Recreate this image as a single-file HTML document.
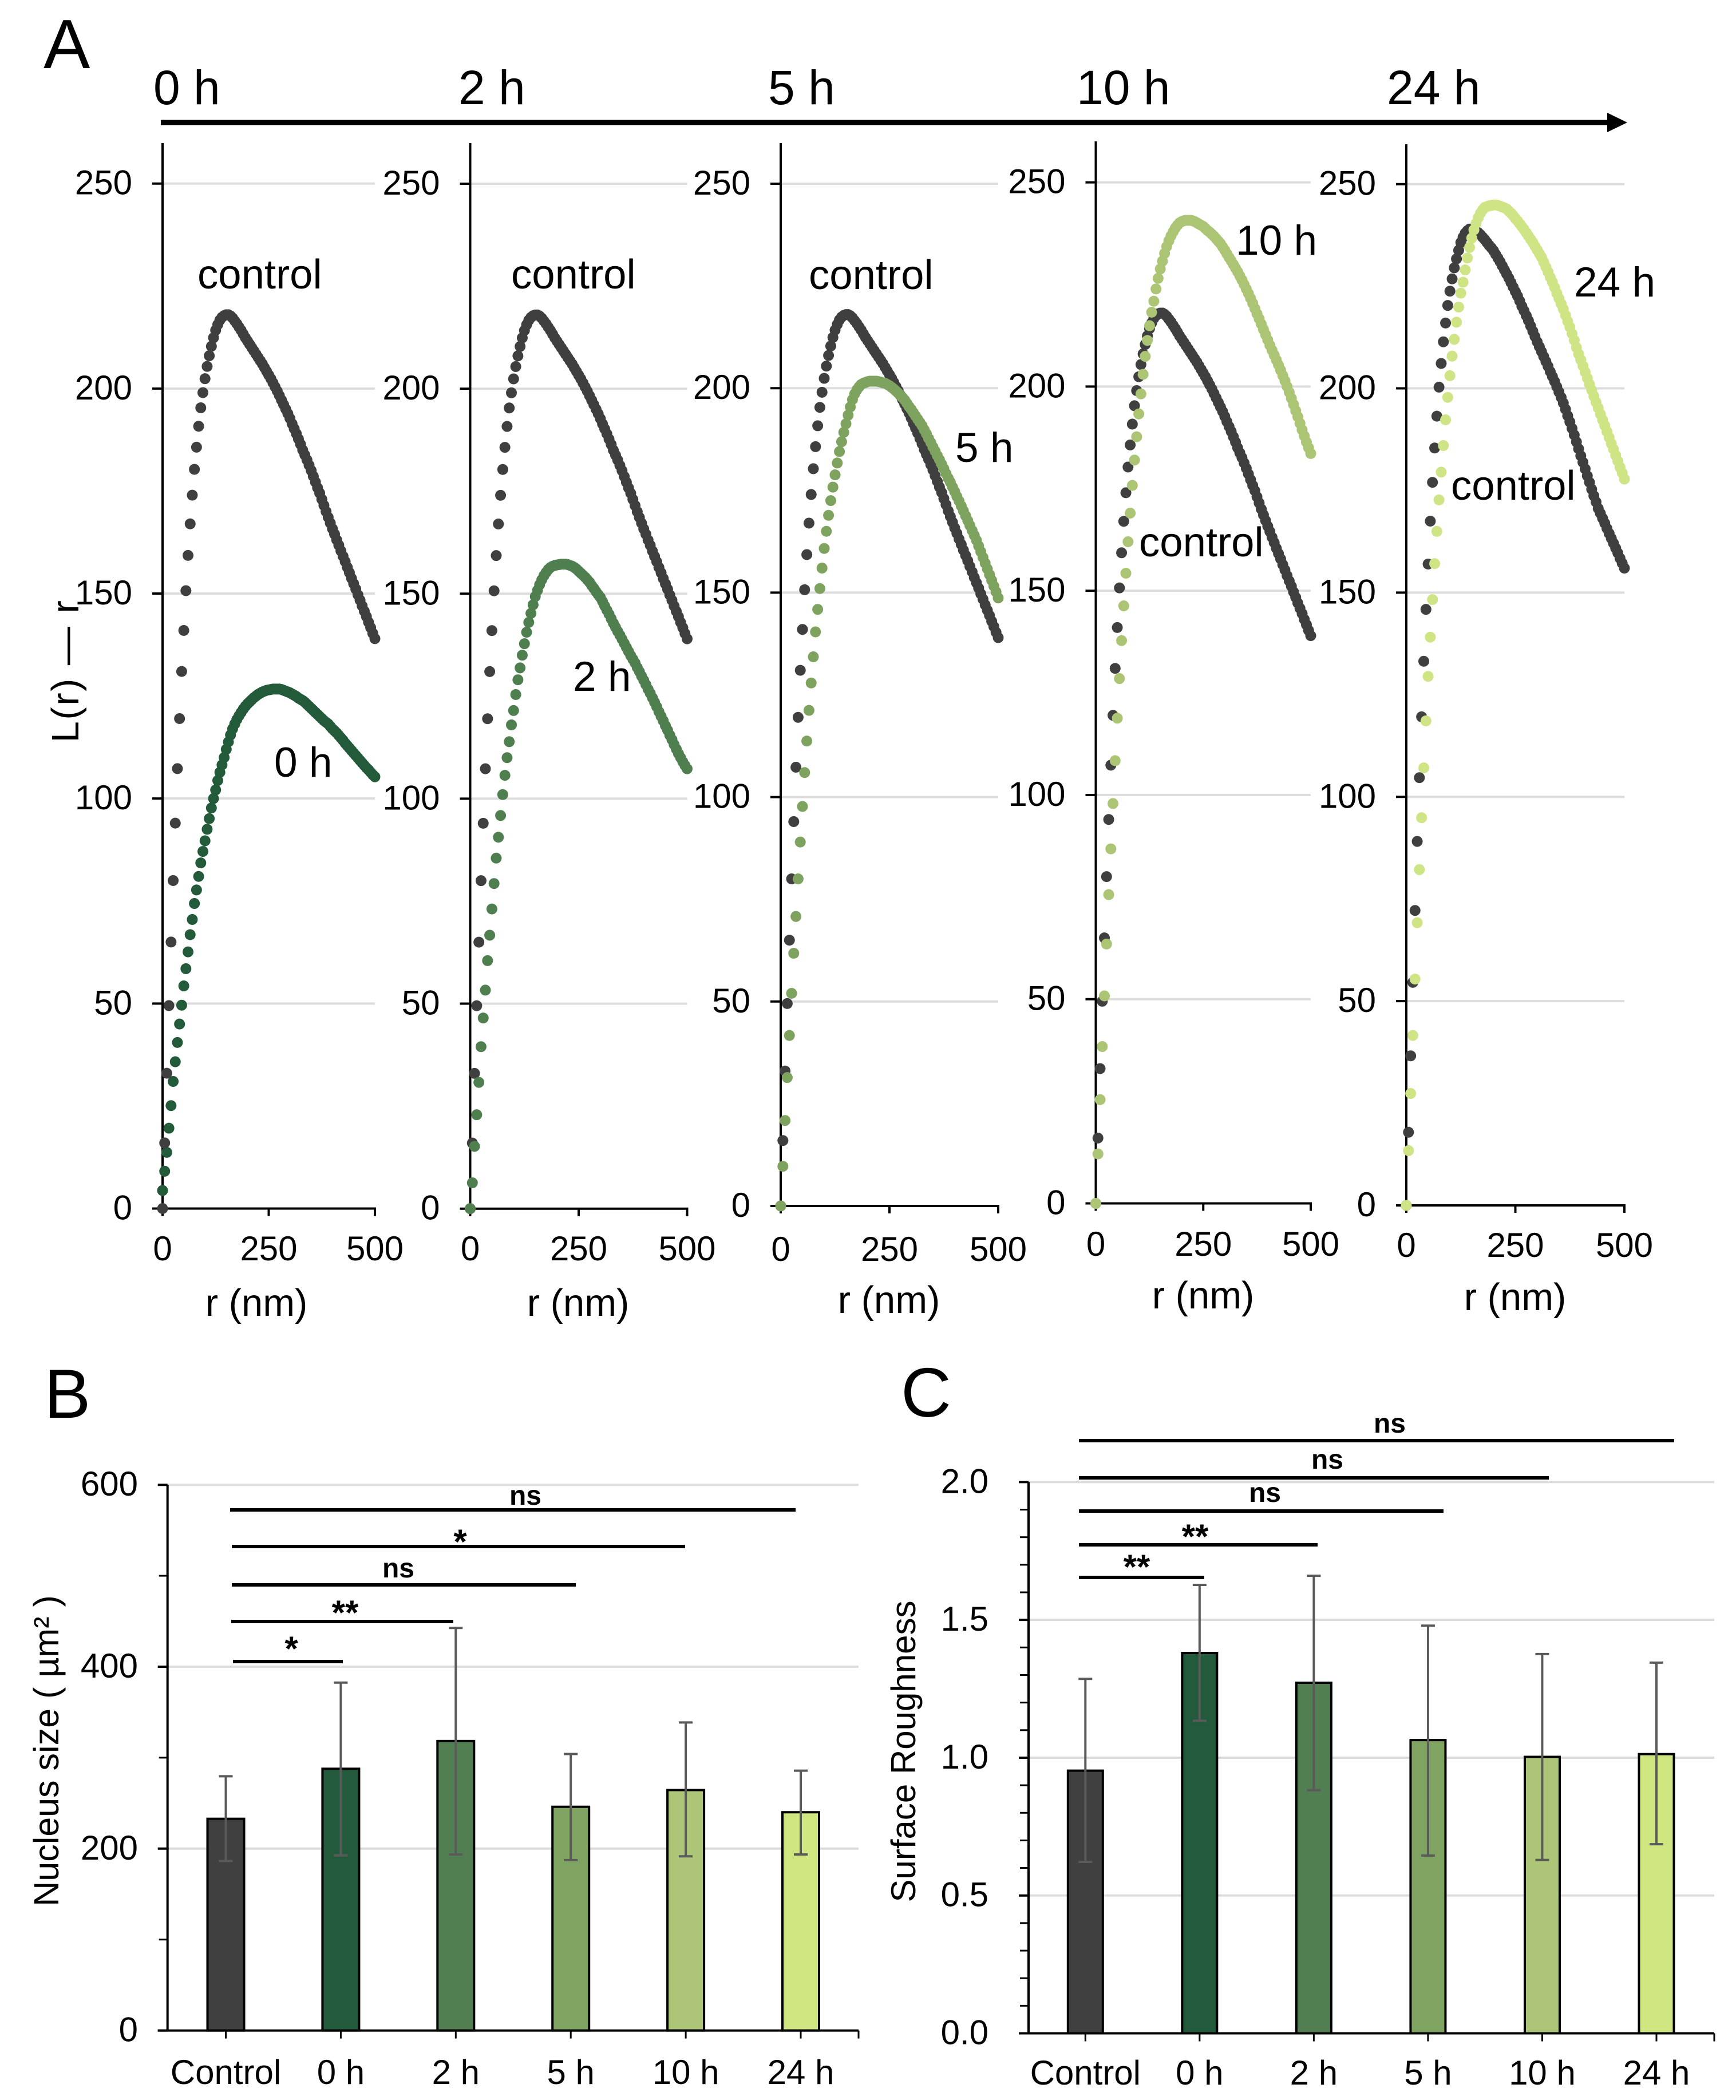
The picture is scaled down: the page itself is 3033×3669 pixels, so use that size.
<!DOCTYPE html>
<html lang="en">
<head>
<meta charset="utf-8">
<title>L(r) — r time course, nucleus size and surface roughness</title>
<style>
html,body{margin:0;padding:0;background:#fff;}
svg{display:block;}
text{font-family:"Liberation Sans",Arial,sans-serif;fill:#000;}
.panel-letter{font-size:122px;}
.header{font-size:84px;}
.tick{font-size:60px;}
.axis-title{font-size:67px;}
.note{font-size:72.5px;}
.note-h{font-size:73px;}
.sig{font-size:48px;font-weight:bold;text-anchor:middle;}
.star{font-size:60px;font-weight:bold;text-anchor:middle;}
.sig-line{stroke:#000;stroke-width:6;}
</style>
</head>
<body>
<svg id="fig" xmlns="http://www.w3.org/2000/svg" width="3033" height="3669" viewBox="0 0 3033 3669">
  <rect x="0" y="0" width="3033" height="3669" fill="#ffffff"/>
  <text class="panel-letter" x="76" y="119">A</text>
  <text class="panel-letter" x="77" y="2477">B</text>
  <text class="panel-letter" x="1574" y="2475">C</text>

  <text class="header" x="268" y="182">0 h</text>
  <text class="header" x="801" y="182">2 h</text>
  <text class="header" x="1342" y="182">5 h</text>
  <text class="header" x="1881" y="182">10 h</text>
  <text class="header" x="2423" y="182">24 h</text>
  <line x1="281" y1="214" x2="2812" y2="214" stroke="#000" stroke-width="9"/>
  <polygon points="2808,197 2843,214 2808,231" fill="#000"/>

  <g id="panels"></g>

  <text class="axis-title" style="font-size:67px;letter-spacing:2.5px" transform="translate(137,1172) rotate(-90)" text-anchor="middle">L(r) — r</text>

  <text class="note" x="345" y="504">control</text>
  <text class="note" x="893" y="504">control</text>
  <text class="note" x="1413" y="505">control</text>
  <text class="note" x="1990" y="972">control</text>
  <text class="note" x="2535" y="873">control</text>
  <text class="note-h" x="479" y="1357">0 h</text>
  <text class="note-h" x="1001" y="1207">2 h</text>
  <text class="note-h" x="1669" y="807">5 h</text>
  <text class="note-h" x="2159" y="445">10 h</text>
  <text class="note-h" x="2750" y="518">24 h</text>

  <g id="chart-b"></g>
  <g id="chart-c"></g>

  <text class="axis-title" style="font-size:61px" transform="translate(102,3059) rotate(-90)" text-anchor="middle">Nucleus size ( µm² )</text>
  <text class="axis-title" style="font-size:60px" transform="translate(1599,3060) rotate(-90)" text-anchor="middle">Surface Roughness</text>

  <g>
    <line class="sig-line" x1="402" y1="2638" x2="1390" y2="2638"/>
    <text class="sig" x="918" y="2629">ns</text>
    <line class="sig-line" x1="405" y1="2702" x2="1197" y2="2702"/>
    <text class="star" x="804" y="2714">*</text>
    <line class="sig-line" x1="405" y1="2769" x2="1006" y2="2769"/>
    <text class="sig" x="696" y="2756">ns</text>
    <line class="sig-line" x1="404" y1="2833" x2="792" y2="2833"/>
    <text class="star" x="603" y="2838">**</text>
    <line class="sig-line" x1="407" y1="2903" x2="599" y2="2903"/>
    <text class="star" x="509" y="2901">*</text>
  </g>
  <g>
    <line class="sig-line" x1="1885" y1="2517" x2="2925" y2="2517"/>
    <text class="sig" x="2428" y="2503">ns</text>
    <line class="sig-line" x1="1885" y1="2582" x2="2706" y2="2582"/>
    <text class="sig" x="2319" y="2566">ns</text>
    <line class="sig-line" x1="1885" y1="2640" x2="2522" y2="2640"/>
    <text class="sig" x="2210" y="2624">ns</text>
    <line class="sig-line" x1="1885" y1="2699" x2="2302" y2="2699"/>
    <text class="star" x="2088" y="2705">**</text>
    <line class="sig-line" x1="1885" y1="2756" x2="2104" y2="2756"/>
    <text class="star" x="1986" y="2758">**</text>
  </g>
</svg>
<script>
// ---- Panel A data: r (nm) and L(r) - r for each series ----
const radiusNm = [0,5,10,15,20,25,30,35,40,45,50,55,60,65,70,75,80,85,90,95,100,105,110,115,120,125,130,135,140,145,150,155,160,165,170,175,180,185,190,195,200,205,210,215,220,225,230,235,240,245,250,255,260,265,270,275,280,285,290,295,300,305,310,315,320,325,330,335,340,345,350,355,360,365,370,375,380,385,390,395,400,405,410,415,420,425,430,435,440,445,450,455,460,465,470,475,480,485,490,495,500];
const controlValues = [0,16,33,49.5,65,80,94,107.3,119.5,131,141,150.7,159.3,167,174,180.3,185.7,190.8,195.3,199,202.4,205.4,208,210.3,212.4,214.2,215.6,216.7,217.4,217.8,218,218,217.7,217.2,216.5,215.8,215,214.2,213.3,212.4,211.6,210.8,210,209.2,208.4,207.6,206.8,206,205.1,204.2,203.3,202.4,201.4,200.4,199.4,198.3,197.2,196.1,195,193.9,192.7,191.4,190.2,189,187.7,186.4,185,183.8,182.6,181.3,180,178.6,177.2,175.8,174.5,173,171.5,170,168.6,167.2,165.8,164.5,163.1,161.8,160.4,159.1,157.8,156.4,155.1,153.7,152.4,151.1,149.7,148.4,147,145.7,144.4,143,141.7,140.3,139];
const hour0Values = [4.4,9.1,13.7,19.6,25.1,31,35.8,40.5,45,49.6,54.3,58.5,62.6,66.8,70.5,74.4,77.7,81,84.3,87.1,89.7,92.5,95.1,97.7,100,102.1,104.4,106.4,108.2,110,112,113.8,115.5,117,118.2,119.3,120.2,121,121.8,122.5,123.1,123.6,124.1,124.6,125,125.4,125.7,126,126.2,126.4,126.5,126.6,126.7,126.7,126.7,126.7,126.6,126.4,126.2,126,125.8,125.5,125.2,124.9,124.5,124.2,123.9,123.5,123,122.5,122,121.5,121,120.5,120,119.5,119,118.6,118.2,117.6,117,116.5,116,115.4,114.8,114.2,113.5,112.9,112.3,111.7,111.1,110.5,109.9,109.3,108.7,108.1,107.5,107,106.4,105.8,105.3];
const hour2Values = [0,6.3,15.2,22.9,30.8,39.5,46.5,53.3,60.5,66.7,73.1,79.3,85.5,90.6,95.9,101,105.7,110,113.9,118,121.5,125.4,129,131.9,135,137.8,140.6,143,145.2,147.3,149.3,150.8,152.2,153.4,154.4,155.2,155.9,156.4,156.7,156.9,157,157.1,157.2,157.2,157.2,157.1,156.9,156.7,156.4,156,155.5,155,154.5,154,153.4,152.8,152,151.3,150.5,149.8,149.1,148.1,147,146,145,143.9,142.8,141.8,140.8,139.9,138.9,137.9,136.9,135.9,134.9,134,133.1,132,131,129.9,128.9,127.8,126.7,125.7,124.6,123.5,122.4,121.2,120.1,119,117.8,116.7,115.5,114.4,113.2,112.1,111,110,109,108.1,107.3];
const hour5Values = [0,9.7,20.9,31.4,41.7,52,61.8,70.8,80,89,97.7,106,113.7,121.2,127.9,134.3,140.4,145.9,151,156,160.8,165,168.9,172.5,175.8,178.8,181.7,184.5,186.9,189.2,191.3,193.4,195.4,197.2,198.6,199.6,200.3,200.9,201.2,201.4,201.6,201.7,201.7,201.7,201.7,201.6,201.5,201.3,201.2,200.9,200.6,200.2,199.8,199.3,198.8,198.2,197.7,197.1,196.3,195.5,194.8,194,193.2,192.4,191.6,190.8,189.8,188.8,187.7,186.7,185.6,184.6,183.5,182.5,181.4,180.3,179.1,178,177,175.8,174.7,173.5,172.4,171.2,170,168.8,167.6,166.4,165.2,164,162.8,161.4,160,158.6,157.2,155.8,154.4,153,151.6,150.2,148.7];
const hour10Values = [0,12.1,25.4,38.4,50.8,63.5,75.6,86.8,97.9,108.4,118.8,128.5,137.8,146.3,154.3,162,169,175.8,182,187.7,193.3,198.2,203,207.4,211.3,214.9,218.2,220.9,223.9,226.5,228.8,230.7,232.6,234.3,235.7,236.9,237.9,238.8,239.5,240.1,240.4,240.6,240.7,240.7,240.7,240.6,240.4,240.1,239.8,239.5,239.2,238.7,238.2,237.8,237.3,236.8,236.2,235.6,235,234.2,233.4,232.5,231.6,230.8,229.9,229,228.1,227.1,226.1,225,223.9,222.8,221.6,220.4,219.1,217.8,216.6,215.3,214,212.7,211.4,210.1,208.9,207.7,206.5,205.3,204,202.7,201.4,200,198.6,197.1,195.6,194.1,192.6,191,189.4,187.9,186.4,185,183.6];
const control24Values = [0,17.9,36.6,54.6,72.2,89.1,104.7,119.6,133.2,145.9,157,167.5,177,185.4,193.2,200.3,206.1,211.4,216,220.3,223.8,226.8,229.5,231.7,233.8,235.7,237,238,238.6,239,239,238.8,238.5,238.1,237.6,237,236.4,235.7,235,234.4,233.7,232.8,231.9,231,230,229,228,227,225.9,224.8,223.7,222.6,221.4,220.1,219,217.8,216.6,215.3,214,212.7,211.4,210.2,209,207.8,206.6,205.4,204.1,202.9,201.7,200.4,199.1,197.8,196.4,194.9,193.3,191.8,190.2,188.6,186.9,185.2,183.5,181.9,180.3,178.6,177,175.3,173.7,172.2,170.6,169.4,168.2,167,165.7,164.5,163.3,162.1,160.9,159.7,158.4,157.2,156];
const hour24Values = [0,13.4,27.4,41.6,55.4,69.2,82.2,94.9,107.1,118.6,129.5,139.1,148.3,157.1,165,172.7,179.5,186,192.3,197.8,203.1,207.9,212,216.2,219.9,223.3,226,229,231.9,234.5,236.8,238.8,240.4,241.8,242.9,243.7,244.3,244.5,244.7,244.8,244.9,244.9,244.8,244.6,244.4,244.2,243.9,243.4,242.9,242.3,241.6,241,240.3,239.6,238.9,238.1,237.3,236.5,235.7,234.8,233.9,233,232.1,230.9,229.7,228.5,227.2,226,224.7,223.3,222,220.7,219.4,217.9,216.4,215,213.4,211.8,210,208.4,207,205.5,204,202.5,201,199.6,198.1,196.6,195.2,193.7,192.3,190.9,189.4,188,186.5,185.1,183.6,182.2,180.7,179.3,177.8];
const ripleyYTicks = [0,50,100,150,200,250];
const ripleyXTicks = [0,250,500];

// ---- Panel B data ----
const categories = ["Control","0 h","2 h","5 h","10 h","24 h"];
const nucleusMeans = [232.8,287.8,318.3,246,264.4,240];
const nucleusErrHigh = [279.6,382.5,442.6,304,338.7,285.7];
const nucleusErrLow = [186.4,192.5,193.6,187.4,191.5,193.6];
const nucleusTicks = [0,200,400,600];
const nucleusMinorTicks = [100,300,500];

// ---- Panel C data ----
const roughnessMeans = [0.953,1.38,1.272,1.064,1.003,1.013];
const roughnessErrHigh = [1.286,1.627,1.66,1.479,1.376,1.345];
const roughnessErrLow = [0.622,1.134,0.882,0.645,0.629,0.686];
const roughnessTicks = [0,0.5,1,1.5,2];
const roughnessMinorTicks = [0.1,0.2,0.3,0.4,0.6,0.7,0.8,0.9,1.1,1.2,1.3,1.4,1.6,1.7,1.8,1.9];

// ---- Styling and layout ----
const CONTROL_COLOR = "#3f3f3f";
const barColors = ["#404040","#235a3b","#527f52","#7fa360","#acc577","#d0e681"];
const panels = [
  {id:"0h", axisX:284, endX:655, zeroY:2111.5, y250:320.7, topY:250, xTitleX:448, xTitleY:2299, labelBase:2202, series:hour0Values, control:controlValues, color:"#225a3a", controlOnTop:true},
  {id:"2h", axisX:821.5, endX:1200.5, zeroY:2111.7, y250:321, topY:250, xTitleX:1010, xTitleY:2299, labelBase:2202, series:hour2Values, control:controlValues, color:"#4f7f4f", controlOnTop:false},
  {id:"5h", axisX:1364, endX:1744, zeroY:2107, y250:321, topY:250, xTitleX:1553, xTitleY:2294, labelBase:2203, series:hour5Values, control:controlValues, color:"#7da35f", controlOnTop:false},
  {id:"10h", axisX:1914.5, endX:2290, zeroY:2102.5, y250:318.6, topY:247, xTitleX:2102, xTitleY:2286, labelBase:2194, series:hour10Values, control:controlValues, color:"#abc574", controlOnTop:false},
  {id:"24h", axisX:2457, endX:2838, zeroY:2106, y250:321.7, topY:252, xTitleX:2647, xTitleY:2289, labelBase:2196, series:hour24Values, control:control24Values, color:"#cfe484", controlOnTop:false}
];

const NS = "http://www.w3.org/2000/svg";
function mk(tag, attrs, parent){
  const el = document.createElementNS(NS, tag);
  for (const k in attrs) el.setAttribute(k, attrs[k]);
  parent.appendChild(el);
  return el;
}

function drawSeries(group, xScale, yScale, values, color, name){
  values.forEach(function(v, i){
    const dot = mk("circle", {cx:xScale(radiusNm[i]), cy:yScale(v), r:9.5, fill:color}, group);
    
    
  });
}

function drawPanel(p){
  const root = document.getElementById("panels");
  const g = mk("g", {}, root);
  
  
  const xScale = function(r){ return p.axisX + (p.endX - p.axisX) * r / 500; };
  const yScale = function(v){ return p.zeroY - (p.zeroY - p.y250) * v / 250; };

  ripleyYTicks.forEach(function(t){
    const y = yScale(t);
    if (t > 0) {
      const grid = mk("line", {x1:p.axisX, x2:p.endX, y1:y, y2:y, stroke:"#dddddd", "stroke-width":4}, g);
      
      
    }
    const tick = mk("line", {x1:p.axisX-18, x2:p.axisX, y1:y, y2:y, stroke:"#000", "stroke-width":4}, g);
    
    
    const lab = mk("text", {x:p.axisX-53, y:y+19, "text-anchor":"end", "class":"tick"}, g);
    lab.textContent = String(t);
    
    
  });

  const yAxis = mk("line", {x1:p.axisX, x2:p.axisX, y1:p.topY, y2:p.zeroY+13, stroke:"#000", "stroke-width":4}, g);
  
  
  const xAxis = mk("line", {x1:p.axisX, x2:p.endX+2, y1:p.zeroY, y2:p.zeroY, stroke:"#000", "stroke-width":4}, g);
  
  

  ripleyXTicks.forEach(function(t){
    const x = xScale(t);
    const tick = mk("line", {x1:x, x2:x, y1:p.zeroY, y2:p.zeroY+13, stroke:"#000", "stroke-width":4}, g);
    
    
    const lab = mk("text", {x:x, y:p.labelBase, "text-anchor":"middle", "class":"tick"}, g);
    lab.textContent = String(t);
    
    
  });

  const xTitle = mk("text", {x:p.xTitleX, y:p.xTitleY, "text-anchor":"middle", "class":"axis-title"}, g);
  xTitle.textContent = "r (nm)";
  
  

  if (p.controlOnTop) {
    drawSeries(g, xScale, yScale, p.series, p.color, 'series-' + p.id);
    drawSeries(g, xScale, yScale, p.control, CONTROL_COLOR, 'series-control');
  } else {
    drawSeries(g, xScale, yScale, p.control, CONTROL_COLOR, 'series-control');
    drawSeries(g, xScale, yScale, p.series, p.color, 'series-' + p.id);
  }
}
panels.forEach(drawPanel);

function drawBars(c){
  const g = document.getElementById(c.id);
  const yScale = function(v){ return c.zeroY - (c.zeroY - c.topY) * v / c.maxValue; };
  const xCenter = function(i){ return c.firstX + (c.lastX - c.firstX) * i / (categories.length - 1); };

  c.ticks.forEach(function(t){
    const y = yScale(t);
    if (t > 0) {
      const grid = mk("line", {x1:c.axisX, x2:c.endX, y1:y, y2:y, stroke:"#dddddd", "stroke-width":4}, g);
      
      
    }
    const tick = mk("line", {x1:c.axisX-17, x2:c.axisX, y1:y, y2:y, stroke:"#000", "stroke-width":4}, g);
    
    
    const lab = mk("text", {x:c.labelX, y:y+19, "text-anchor":"end", "class":"tick"}, g);
    lab.textContent = t.toFixed(c.decimals);
    
    
  });
  c.minor.forEach(function(t){
    const y = yScale(t);
    const tick = mk("line", {x1:c.axisX-15, x2:c.axisX, y1:y, y2:y, stroke:"#000", "stroke-width":3}, g);
    
    
  });

  c.means.forEach(function(v, i){
    const x = xCenter(i);
    const top = yScale(v);
    const bar = mk("rect", {x:x-c.barW/2, y:top, width:c.barW, height:c.zeroY-top, fill:barColors[i], stroke:"#000", "stroke-width":4}, g);
    
    
  });

  const yAxis = mk("line", {x1:c.axisX, x2:c.axisX, y1:c.topY, y2:c.zeroY, stroke:"#000", "stroke-width":4}, g);
  
  
  const xAxis = mk("line", {x1:c.axisX-17, x2:c.endX, y1:c.zeroY, y2:c.zeroY, stroke:"#000", "stroke-width":4}, g);
  
  
  const endTick = mk("line", {x1:c.endX, x2:c.endX, y1:c.zeroY, y2:c.zeroY+14, stroke:"#000", "stroke-width":3}, g);
  
  

  categories.forEach(function(name, i){
    const x = xCenter(i);
    const tick = mk("line", {x1:x, x2:x, y1:c.zeroY, y2:c.zeroY+14, stroke:"#000", "stroke-width":3}, g);
    
    
    const lab = mk("text", {x:x, y:c.catBase, "text-anchor":"middle", "class":"tick"}, g);
    lab.textContent = name;
    
    

    const hi = yScale(c.errHigh[i]);
    const lo = yScale(c.errLow[i]);
    const err = mk("line", {x1:x, x2:x, y1:hi, y2:lo, stroke:"#5a5a5a", "stroke-width":4}, g);
    
    
    const capHi = mk("line", {x1:x-12, x2:x+12, y1:hi, y2:hi, stroke:"#5a5a5a", "stroke-width":4}, g);
    
    
    const capLo = mk("line", {x1:x-12, x2:x+12, y1:lo, y2:lo, stroke:"#5a5a5a", "stroke-width":4}, g);
    
    
  });
}

drawBars({id:"chart-b", axisX:292.7, endX:1500, topY:2594.2, zeroY:3547.6, maxValue:600, firstX:394.5, lastX:1399, barW:64, labelX:241, catBase:3641, decimals:0,
  ticks:nucleusTicks, minor:nucleusMinorTicks, means:nucleusMeans, errHigh:nucleusErrHigh, errLow:nucleusErrLow});
drawBars({id:"chart-c", axisX:1797, endX:2995, topY:2589.4, zeroY:3552.5, maxValue:2, firstX:1896.3, lastX:2894, barW:61, labelX:1727, catBase:3642, decimals:1,
  ticks:roughnessTicks, minor:roughnessMinorTicks, means:roughnessMeans, errHigh:roughnessErrHigh, errLow:roughnessErrLow});
</script>
</body>
</html>
